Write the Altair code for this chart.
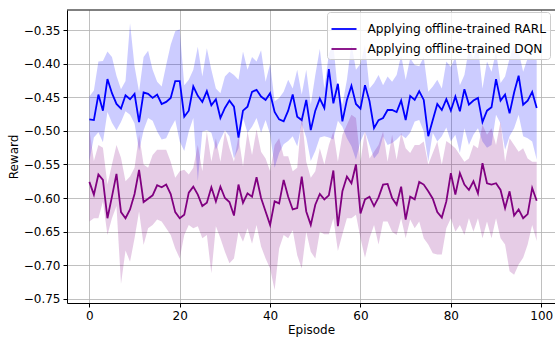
import altair as alt
import pandas as pd

episodes = list(range(100))

rarl_mean = [
    -0.483, -0.484, -0.446, -0.470, -0.423, -0.444, -0.460, -0.467, -0.447, -0.453,
    -0.445, -0.487, -0.443, -0.445, -0.451, -0.446, -0.460, -0.457, -0.451, -0.426,
    -0.426, -0.479, -0.470, -0.434, -0.448, -0.457, -0.441, -0.462, -0.453, -0.481,
    -0.466, -0.455, -0.464, -0.510, -0.470, -0.464, -0.442, -0.439, -0.449, -0.454,
    -0.444, -0.472, -0.483, -0.486, -0.470, -0.446, -0.479, -0.484, -0.454, -0.499,
    -0.470, -0.452, -0.466, -0.408, -0.459, -0.430, -0.486, -0.454, -0.433, -0.460,
    -0.467, -0.432, -0.456, -0.496, -0.484, -0.481, -0.469, -0.469, -0.472, -0.455,
    -0.484, -0.448, -0.454, -0.441, -0.454, -0.508, -0.484, -0.460, -0.469, -0.453,
    -0.470, -0.449, -0.471, -0.438, -0.461, -0.455, -0.451, -0.487, -0.470, -0.465,
    -0.423, -0.455, -0.446, -0.474, -0.443, -0.418, -0.461, -0.455, -0.442, -0.466,
]
rarl_upper = [
    -0.449, -0.440, -0.397, -0.396, -0.382, -0.390, -0.418, -0.438, -0.426, -0.340,
    -0.404, -0.442, -0.390, -0.381, -0.409, -0.427, -0.434, -0.402, -0.372, -0.352,
    -0.349, -0.432, -0.424, -0.409, -0.375, -0.419, -0.377, -0.409, -0.437, -0.444,
    -0.419, -0.412, -0.417, -0.424, -0.382, -0.409, -0.390, -0.397, -0.380, -0.427,
    -0.400, -0.456, -0.451, -0.442, -0.424, -0.437, -0.409, -0.446, -0.409, -0.461,
    -0.417, -0.378, -0.437, -0.385, -0.372, -0.442, -0.461, -0.424, -0.370, -0.409,
    -0.400, -0.372, -0.437, -0.429, -0.417, -0.432, -0.419, -0.427, -0.417, -0.387,
    -0.424, -0.392, -0.402, -0.404, -0.390, -0.442, -0.434, -0.424, -0.437, -0.397,
    -0.405, -0.390, -0.432, -0.417, -0.377, -0.392, -0.372, -0.437, -0.397, -0.412,
    -0.382, -0.429, -0.419, -0.392, -0.372, -0.382, -0.412, -0.392, -0.392, -0.395,
]
rarl_lower = [
    -0.545, -0.510, -0.502, -0.517, -0.472, -0.488, -0.499, -0.487, -0.471, -0.476,
    -0.489, -0.530, -0.499, -0.481, -0.485, -0.501, -0.513, -0.511, -0.496, -0.484,
    -0.516, -0.530, -0.501, -0.481, -0.575, -0.501, -0.499, -0.503, -0.528, -0.513,
    -0.499, -0.508, -0.541, -0.526, -0.481, -0.503, -0.494, -0.481, -0.503, -0.484,
    -0.505, -0.555, -0.533, -0.520, -0.515, -0.508, -0.523, -0.490, -0.510, -0.545,
    -0.530, -0.510, -0.508, -0.510, -0.513, -0.485, -0.494, -0.511, -0.523, -0.543,
    -0.516, -0.501, -0.521, -0.541, -0.533, -0.508, -0.521, -0.518, -0.513, -0.506,
    -0.511, -0.503, -0.486, -0.484, -0.501, -0.546, -0.503, -0.516, -0.508, -0.495,
    -0.516, -0.506, -0.533, -0.496, -0.521, -0.506, -0.496, -0.516, -0.525, -0.521,
    -0.476, -0.489, -0.528, -0.508, -0.496, -0.476, -0.508, -0.511, -0.516, -0.543,
]

dqn_mean = [
    -0.576, -0.595, -0.565, -0.573, -0.630, -0.598, -0.564, -0.621, -0.630, -0.617,
    -0.594, -0.558, -0.606, -0.601, -0.596, -0.581, -0.584, -0.580, -0.594, -0.621,
    -0.630, -0.625, -0.592, -0.583, -0.595, -0.612, -0.607, -0.584, -0.605, -0.583,
    -0.600, -0.606, -0.626, -0.580, -0.607, -0.593, -0.598, -0.569, -0.600, -0.620,
    -0.640, -0.605, -0.608, -0.573, -0.598, -0.617, -0.615, -0.568, -0.620, -0.640,
    -0.610, -0.594, -0.602, -0.596, -0.559, -0.642, -0.590, -0.568, -0.578, -0.550,
    -0.623, -0.602, -0.598, -0.612, -0.599, -0.580, -0.579, -0.600, -0.610, -0.583,
    -0.632, -0.598, -0.602, -0.576, -0.580, -0.590, -0.601, -0.621, -0.629, -0.605,
    -0.563, -0.595, -0.563, -0.580, -0.588, -0.575, -0.593, -0.548, -0.578, -0.580,
    -0.578, -0.588, -0.615, -0.590, -0.626, -0.617, -0.630, -0.624, -0.585, -0.604,
]
dqn_upper = [
    -0.498, -0.545, -0.521, -0.525, -0.580, -0.550, -0.521, -0.540, -0.575, -0.568,
    -0.555, -0.506, -0.550, -0.555, -0.536, -0.528, -0.528, -0.528, -0.546, -0.570,
    -0.560, -0.558, -0.565, -0.555, -0.521, -0.560, -0.501, -0.546, -0.511, -0.546,
    -0.501, -0.526, -0.546, -0.508, -0.553, -0.501, -0.536, -0.498, -0.531, -0.541,
    -0.560, -0.521, -0.511, -0.538, -0.538, -0.560, -0.555, -0.476, -0.546, -0.570,
    -0.560, -0.526, -0.550, -0.521, -0.501, -0.546, -0.506, -0.491, -0.476, -0.481,
    -0.546, -0.499, -0.541, -0.531, -0.521, -0.501, -0.546, -0.506, -0.543, -0.503,
    -0.526, -0.533, -0.521, -0.521, -0.516, -0.550, -0.533, -0.516, -0.550, -0.515,
    -0.520, -0.526, -0.536, -0.546, -0.541, -0.521, -0.526, -0.491, -0.506, -0.496,
    -0.521, -0.486, -0.546, -0.511, -0.521, -0.531, -0.526, -0.541, -0.546, -0.546,
]
dqn_lower = [
    -0.635, -0.630, -0.630, -0.605, -0.655, -0.630, -0.612, -0.728, -0.678, -0.695,
    -0.660, -0.620, -0.670, -0.645, -0.640, -0.632, -0.635, -0.645, -0.655, -0.675,
    -0.690, -0.655, -0.640, -0.645, -0.642, -0.660, -0.655, -0.712, -0.642, -0.660,
    -0.680, -0.697, -0.690, -0.650, -0.665, -0.645, -0.668, -0.640, -0.672, -0.690,
    -0.705, -0.737, -0.675, -0.655, -0.660, -0.648, -0.685, -0.705, -0.650, -0.680,
    -0.690, -0.650, -0.654, -0.654, -0.630, -0.679, -0.654, -0.630, -0.630, -0.625,
    -0.660, -0.689, -0.660, -0.640, -0.669, -0.635, -0.635, -0.650, -0.655, -0.630,
    -0.660, -0.632, -0.645, -0.635, -0.660, -0.669, -0.682, -0.684, -0.684, -0.645,
    -0.630, -0.650, -0.640, -0.655, -0.630, -0.650, -0.630, -0.660, -0.635, -0.660,
    -0.630, -0.660, -0.669, -0.709, -0.714, -0.699, -0.689, -0.669, -0.640, -0.664,
]

series_names = ["Applying offline-trained RARL", "Applying offline-trained DQN"]
series_colors = ["#0000ff", "#800080"]

rows = []
for name, m, lo, hi in [
    (series_names[0], rarl_mean, rarl_lower, rarl_upper),
    (series_names[1], dqn_mean, dqn_lower, dqn_upper),
]:
    for e, a, b, c in zip(episodes, m, lo, hi):
        rows.append({"episode": e, "series": name, "mean": a, "lower": b, "upper": c})
df = pd.DataFrame(rows)

W, H = 488, 293
font = "DejaVu Sans"

x_enc = alt.X(
    "episode:Q",
    scale=alt.Scale(domain=[-4.95, 103.05], nice=False, zero=False),
    axis=alt.Axis(
        values=[0, 20, 40, 60, 80, 100], format="d", title="Episode",
        grid=True, tickSize=4, labelPadding=3, titlePadding=3,
    ),
)
y_scale = alt.Scale(domain=[-0.7562, -0.3202], nice=False, zero=False)
y_axis = alt.Axis(
    values=[-0.75, -0.70, -0.65, -0.60, -0.55, -0.50, -0.45, -0.40, -0.35],
    format=".2f", title="Reward", grid=True, tickSize=4, labelPadding=3, titlePadding=3,
)

base = alt.Chart(df)

bands = []
for name, col in zip(series_names, series_colors):
    bands.append(
        base.transform_filter(alt.datum.series == name)
        .mark_area(opacity=0.2, color=col)
        .encode(
            x=x_enc,
            y=alt.Y("lower:Q", scale=y_scale, axis=y_axis),
            y2="upper:Q",
        )
    )

line = base.mark_line(strokeWidth=1.8).encode(
    x=x_enc,
    y=alt.Y("mean:Q", scale=y_scale, axis=y_axis),
    color=alt.Color(
        "series:N",
        scale=alt.Scale(domain=series_names, range=series_colors),
        legend=alt.Legend(
            orient="none", legendX=260, legendY=2, title=None,
            symbolType="stroke", symbolSize=625, symbolStrokeWidth=1.8,
            labelFontSize=12.2, labelFont=font, labelColor="black", labelLimit=300,
            padding=3.5, rowPadding=-3.5, labelOffset=10,
            strokeColor="#cccccc", fillColor="rgba(255,255,255,0.8)", cornerRadius=3,
        ),
    ),
)

top_spine = alt.Chart(pd.DataFrame({"k": [0]})).mark_rule(color="black", strokeWidth=1).encode(
    x=alt.value(0), x2=alt.value(W), y=alt.value(0)
)

chart = (
    alt.layer(bands[0], line, bands[1], top_spine)
    .properties(
        width=W, height=H,
        autosize=alt.AutoSizeParams(type="none"),
        padding={"left": 67, "top": 10, "right": 0, "bottom": 34},
        background="white",
    )
    .configure(font=font)
    .configure_view(stroke=None)
    .configure_axis(
        labelFont=font, titleFont=font, labelFontSize=12, titleFontSize=12,
        titleFontWeight="normal", labelColor="black", titleColor="black",
        domainColor="black", domainWidth=1, tickColor="black", tickWidth=1,
        gridColor="#b0b0b0", gridWidth=1, gridOpacity=0.8,
    )
)

chart.save("out.html", embed_options={"renderer": "svg", "actions": False})
